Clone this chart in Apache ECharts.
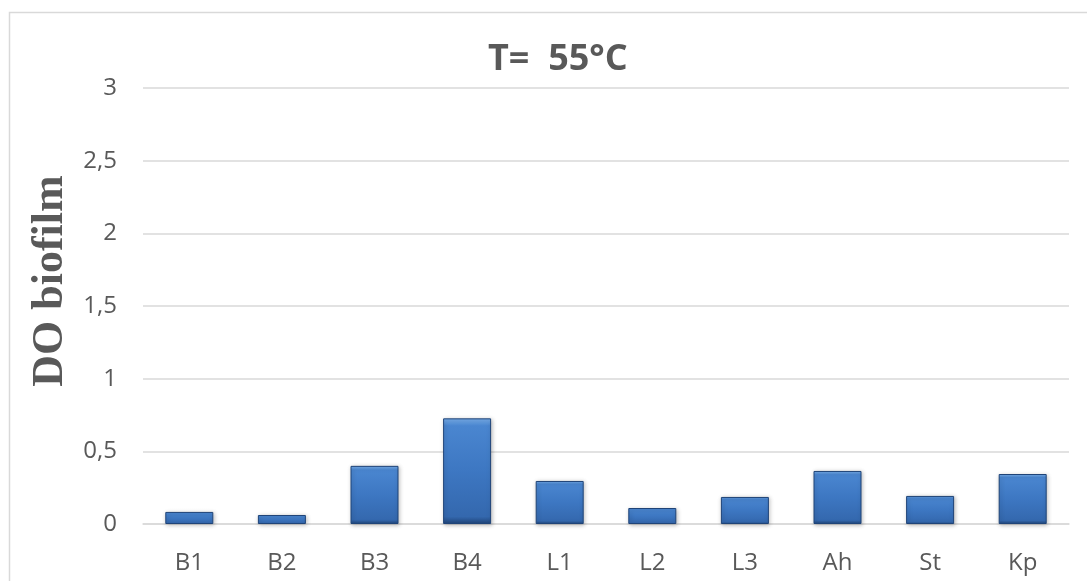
<!DOCTYPE html>
<html><head><meta charset="utf-8">
<script src="https://cdn.jsdelivr.net/npm/echarts@6/dist/echarts.min.js"></script>
<style>html,body{margin:0;padding:0;background:#fff}#c{width:1087px;height:581px}</style>
</head><body><div id="c"></div>
<script>
const categories = ['B1','B2','B3','B4','L1','L2','L3','Ah','St','Kp'];
const values = [0.083, 0.062, 0.40, 0.727, 0.296, 0.11, 0.186, 0.365, 0.193, 0.344];
const yTicks = [0, 0.5, 1, 1.5, 2, 2.5, 3];

const chart = echarts.init(document.getElementById('c'));
chart.setOption({
  animation: false,
  backgroundColor: '#fff',
  graphic: [{
    type: 'rect', shape: {x: 9.5, y: 12.5, width: 1200, height: 700},
    style: {fill: 'none', stroke: '#d9d9d9', lineWidth: 1.5}, z: -1
  }],
  title: {
    text: 'T=  55°C', left: 483, top: 37,
    textStyle: {fontFamily: 'Open Sans', fontWeight: 'bold', fontSize: 36, color: '#595959'}
  },
  grid: {left: 143, right: 18, top: 88, bottom: 57},
  xAxis: {
    type: 'category', data: categories,
    axisLine: {lineStyle: {color: '#d9d9d9', width: 1.5}},
    axisTick: {show: false},
    axisLabel: {fontFamily: 'Open Sans', fontSize: 24, color: '#595959', margin: 27}
  },
  yAxis: {
    type: 'value', min: 0, max: 3, interval: 0.5,
    name: 'DO biofilm', nameLocation: 'middle', nameGap: 68,
    nameTextStyle: {fontFamily: 'Liberation Serif', fontWeight: 'bold', fontSize: 44, color: '#595959',
      padding: [0, 0, 0, 50]},
    axisLabel: {fontFamily: 'Open Sans', fontSize: 24, color: '#595959', margin: 26,
      formatter: v => String(v).replace('.', ',')},
    splitLine: {lineStyle: {color: '#d9d9d9', width: 1.5}},
    axisLine: {show: false}, axisTick: {show: false}
  },
  series: [{
    type: 'bar', data: values, barWidth: 48,
    itemStyle: {
      color: new echarts.graphic.LinearGradient(0, 0, 0, 1, [
        {offset: 0, color: '#7ab0ec'},
        {offset: 0.07, color: '#4a86d0'},
        {offset: 0.5, color: '#3d77c2'},
        {offset: 0.93, color: '#3468ae'},
        {offset: 1, color: '#1f4478'}
      ]),
      borderColor: '#1f4478', borderWidth: 1,
      shadowColor: 'rgba(0,0,0,0.25)', shadowBlur: 4, shadowOffsetX: 1, shadowOffsetY: 1
    }
  }]
});
</script></body></html>
